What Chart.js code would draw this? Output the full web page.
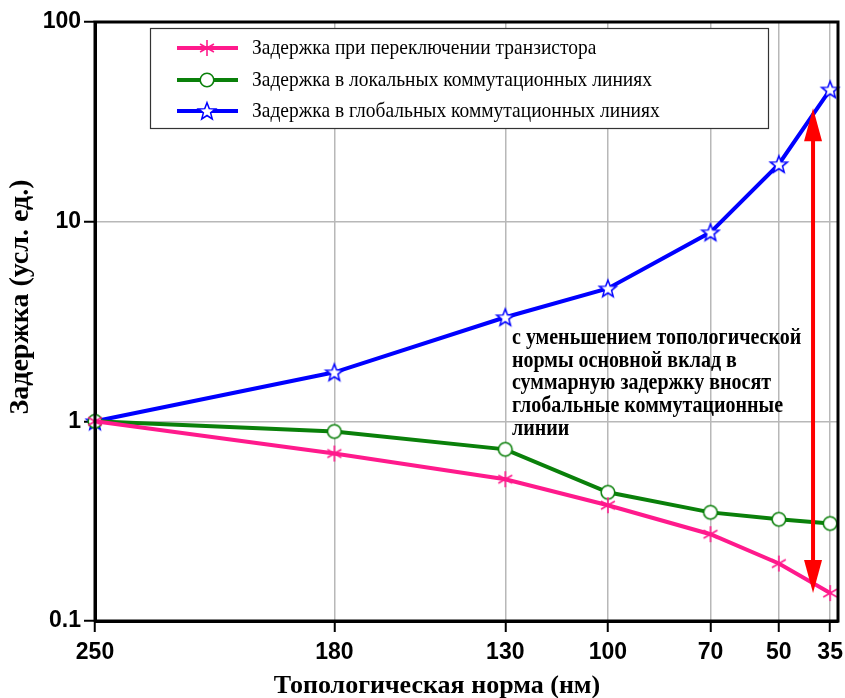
<!DOCTYPE html>
<html>
<head>
<meta charset="utf-8">
<script src="https://cdn.jsdelivr.net/npm/chart.js@4/dist/chart.umd.min.js"></script>
<style>
  html, body { margin: 0; padding: 0; background: #ffffff; }
  #wrap { position: relative; width: 845px; height: 698px; }
</style>
</head>
<body>
<div id="wrap"><canvas id="chart"></canvas></div>
<script>
// Technology node, nm
const nodes = [250, 180, 130, 100, 70, 50, 35];
// Relative delays (arbitrary units, normalised to 250 nm)
const transistorDelay = [1, 0.69, 0.513, 0.38, 0.272, 0.194, 0.138];
const localWireDelay  = [1, 0.89, 0.724, 0.441, 0.35, 0.323, 0.308];
const globalWireDelay = [1, 1.76, 3.32, 4.63, 8.84, 19.4, 45.9];
const yTickValues = [0.1, 1, 10, 100];
const yTickLabels = ['0.1', '1', '10', '100'];
const seriesNames = [
  'Задержка при переключении транзистора',
  'Задержка в локальных коммутационных линиях',
  'Задержка в глобальных коммутационных линиях'
];
const xTitle = 'Топологическая норма (нм)';
const yTitle = 'Задержка (усл. ед.)';
const noteLines = [
  'с уменьшением топологической',
  'нормы основной вклад в',
  'суммарную задержку вносят',
  'глобальные коммутационные',
  'линии'
];
// Double arrow: node position and the delay span it covers
const arrowNode = 40;
const arrowSpan = [0.138, 37];

const PINK = '#ff1a8c';
const GREEN = '#0a800a';
const BLUE = '#0000ff';
const SERIF = '"Liberation Serif", "Times New Roman", serif';

// Marker images
function asteriskMarker(color) {
  const c = document.createElement('canvas');
  c.width = 20; c.height = 20;
  const g = c.getContext('2d');
  g.strokeStyle = color; g.lineWidth = 1.6;
  const r = 8, cx = 10, cy = 10;
  for (let i = 0; i < 3; i++) {
    const a = Math.PI / 2 + i * Math.PI / 3;
    g.beginPath();
    g.moveTo(cx + r * Math.cos(a), cy + r * Math.sin(a));
    g.lineTo(cx - r * Math.cos(a), cy - r * Math.sin(a));
    g.stroke();
  }
  return c;
}
function circleMarker(color) {
  const c = document.createElement('canvas');
  c.width = 18; c.height = 18;
  const g = c.getContext('2d');
  g.fillStyle = '#fff'; g.strokeStyle = color; g.lineWidth = 1.6;
  g.beginPath(); g.arc(9, 9, 6.8, 0, Math.PI * 2); g.fill(); g.stroke();
  return c;
}
function starMarker(color) {
  const c = document.createElement('canvas');
  c.width = 22; c.height = 22;
  const g = c.getContext('2d');
  g.fillStyle = '#fff'; g.strokeStyle = color; g.lineWidth = 1.5;
  const R = 9, r = 3.8, cx = 11, cy = 11.7;
  g.beginPath();
  for (let i = 0; i < 10; i++) {
    const rad = i % 2 === 0 ? R : r;
    const a = -Math.PI / 2 + i * Math.PI / 5;
    const x = cx + rad * Math.cos(a), y = cy + rad * Math.sin(a);
    if (i === 0) g.moveTo(x, y); else g.lineTo(x, y);
  }
  g.closePath(); g.fill(); g.stroke();
  return c;
}

const markers = [asteriskMarker(PINK), circleMarker(GREEN), starMarker(BLUE)];
const colors = [PINK, GREEN, BLUE];
const seriesValues = [transistorDelay, localWireDelay, globalWireDelay];

const datasets = seriesValues.map((vals, i) => ({
  label: seriesNames[i],
  data: nodes.map((n, k) => ({ x: n, y: vals[k] })),
  borderColor: colors[i],
  backgroundColor: colors[i],
  borderWidth: 4,
  pointStyle: markers[i],
  pointRadius: 8,
  pointHoverRadius: 8,
  tension: 0,
  clip: false
}));

// Text with independent horizontal / vertical scale
function stretchedText(ctx, text, x, y, sx, sy) {
  ctx.save();
  ctx.translate(x, y);
  ctx.scale(sx, sy);
  ctx.fillText(text, 0, 0);
  ctx.restore();
}

// Frame, titles, legend box, note text and arrow
const decorPlugin = {
  id: 'decor',
  afterDraw(chart) {
    const { ctx, chartArea: a, scales } = chart;
    const xs = scales.x, ys = scales.y;
    ctx.save();

    // Frame around the plotting area
    ctx.strokeStyle = '#000'; ctx.lineWidth = 3;
    ctx.strokeRect(a.left, a.top, a.right - a.left, a.bottom - a.top);

    // Axis titles
    ctx.fillStyle = '#000';
    ctx.textAlign = 'center'; ctx.textBaseline = 'middle';
    ctx.font = 'bold 26px ' + SERIF;
    ctx.fillText(xTitle, 437, 686);
    ctx.save();
    ctx.translate(21, 297);
    ctx.rotate(-Math.PI / 2);
    ctx.font = 'bold 28px ' + SERIF;
    ctx.fillText(yTitle, 0, 0);
    ctx.restore();

    // Legend
    const lx = 150, ly = 28, lw = 618, lh = 100;
    ctx.fillStyle = '#fff';
    ctx.fillRect(lx, ly, lw, lh);
    ctx.strokeStyle = '#333'; ctx.lineWidth = 1.2;
    ctx.strokeRect(lx + 0.5, ly + 0.5, lw, lh);
    const rowY = [48, 80, 111];
    ctx.font = '19.5px ' + SERIF;
    ctx.textAlign = 'left'; ctx.textBaseline = 'middle';
    chart.data.datasets.forEach((ds, i) => {
      const y = rowY[i];
      ctx.strokeStyle = ds.borderColor; ctx.lineWidth = 4;
      ctx.beginPath(); ctx.moveTo(177, y); ctx.lineTo(238, y); ctx.stroke();
      const img = ds.pointStyle;
      ctx.drawImage(img, 207 - img.width / 2, y - img.height / 2);
      ctx.fillStyle = '#000';
      stretchedText(ctx, ds.label, 252, y, 1, 1.08);
    });

    // Note
    ctx.font = 'bold 20px ' + SERIF;
    ctx.fillStyle = '#000';
    noteLines.forEach((t, i) => stretchedText(ctx, t, 512, 338 + i * 22.8, 1, 1.12));

    // Double-headed arrow
    const ax = xs.getPixelForValue(arrowNode);
    const yBot = ys.getPixelForValue(arrowSpan[0]);
    const yTop = ys.getPixelForValue(arrowSpan[1]);
    const head = 33, hw = 9;
    ctx.strokeStyle = '#ff0000'; ctx.fillStyle = '#ff0000'; ctx.lineWidth = 4;
    ctx.beginPath(); ctx.moveTo(ax, yTop + head - 2); ctx.lineTo(ax, yBot - head + 2); ctx.stroke();
    ctx.beginPath(); ctx.moveTo(ax, yTop); ctx.lineTo(ax - hw, yTop + head); ctx.lineTo(ax + hw, yTop + head); ctx.closePath(); ctx.fill();
    ctx.beginPath(); ctx.moveTo(ax, yBot); ctx.lineTo(ax - hw, yBot - head); ctx.lineTo(ax + hw, yBot - head); ctx.closePath(); ctx.fill();

    ctx.restore();
  }
};

const tickFont = { family: '"Liberation Sans", Arial, sans-serif', size: 23, weight: 'bold' };
const gridStyle = {
  color: '#b8b8b8',
  lineWidth: 1.5,
  tickColor: '#000',
  tickLength: 11,
  tickWidth: 2
};

new Chart(document.getElementById('chart'), {
  type: 'line',
  data: { datasets },
  options: {
    responsive: true,
    maintainAspectRatio: false,
    animation: false,
    events: [],
    layout: { autoPadding: false, padding: { left: 0, right: 7, top: 22, bottom: 0 } },
    plugins: {
      legend: { display: false },
      tooltip: { enabled: false }
    },
    scales: {
      x: {
        type: 'linear',
        reverse: true,
        min: 32.7,
        max: 250,
        afterBuildTicks(scale) { scale.ticks = nodes.map(v => ({ value: v })); },
        afterFit(scale) {
          scale.height = 77;
          scale.paddingLeft = 0;
          scale.paddingRight = 0;
        },
        ticks: {
          autoSkip: false,
          maxRotation: 0,
          padding: 7,
          color: '#000',
          font: tickFont,
          callback: v => String(v)
        },
        grid: gridStyle,
        border: { color: '#000', width: 3 }
      },
      y: {
        type: 'logarithmic',
        min: 0.1,
        max: 100,
        afterBuildTicks(scale) { scale.ticks = yTickValues.map(v => ({ value: v })); },
        afterFit(scale) {
          scale.width = 95;
          scale.paddingTop = 0;
          scale.paddingBottom = 0;
        },
        ticks: {
          autoSkip: false,
          padding: 3,
          color: '#000',
          font: tickFont,
          callback: (v) => yTickLabels[yTickValues.indexOf(v)]
        },
        grid: gridStyle,
        border: { color: '#000', width: 3 }
      }
    }
  },
  plugins: [decorPlugin]
});
</script>
</body>
</html>
